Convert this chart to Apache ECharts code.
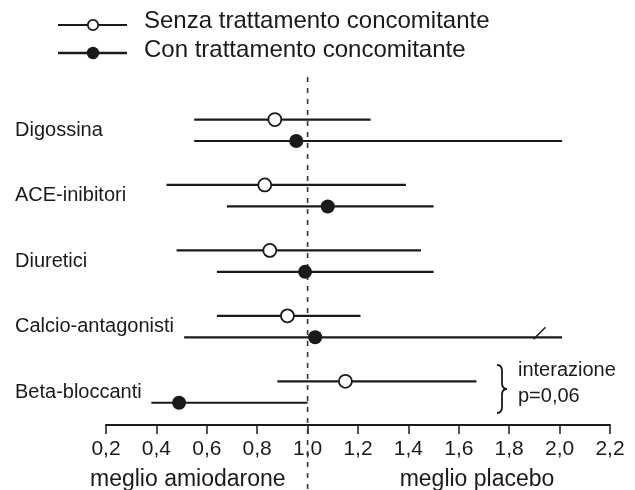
<!DOCTYPE html>
<html>
<head>
<meta charset="utf-8">
<script src="https://cdn.jsdelivr.net/npm/echarts@6/dist/echarts.min.js"></script>
<style>
html,body{margin:0;padding:0;background:#fff;}
#chart{width:635px;height:490px;}
</style>
</head>
<body>
<div id="chart"></div>
<script>
// ---- data ----
const categories = ['Digossina', 'ACE-inibitori', 'Diuretici', 'Calcio-antagonisti', 'Beta-bloccanti'];
const senzaLabel = 'Senza trattamento concomitante';
const conLabel = 'Con trattamento concomitante';
const senzaEst  = [0.87, 0.83, 0.85, 0.92, 1.15];
const senzaLow  = [0.55, 0.44, 0.48, 0.64, 0.88];
const senzaHigh = [1.25, 1.39, 1.45, 1.21, 1.67];
const conEst  = [0.955, 1.08, 0.99, 1.03, 0.49];
const conLow  = [0.55, 0.68, 0.64, 0.51, 0.38];
const conHigh = [2.01, 1.50, 1.50, 2.01, 1.00];
const tickLabels = ['0,2','0,4','0,6','0,8','1,0','1,2','1,4','1,6','1,8','2,0','2,2'];
const breakValue = 1.92;      // axis-break slash on Calcio-antagonisti (con)
const breakRow = 3;
const refValue = 1.0;
const xLeftName = 'meglio amiodarone';
const xRightName = 'meglio placebo';
const noteLines = ['interazione', 'p=0,06'];

// ---- layout ----
const INK = '#1a1a1a';
const FONT = '"Liberation Sans", Arial, sans-serif';
const OFF = 0.164;  // row offset inside a group

const chart = echarts.init(document.getElementById('chart'), null, {renderer: 'canvas'});

function ciData(low, high, sign) {
  return low.map((l, i) => [l, high[i], i + sign * OFF]);
}
function ptData(est, sign) {
  return est.map((v, i) => [v, i + sign * OFF]);
}
const ciRender = function (params, api) {
  const a = api.coord([api.value(0), api.value(2)]);
  const b = api.coord([api.value(1), api.value(2)]);
  return {
    type: 'line',
    shape: {x1: a[0], y1: a[1], x2: b[0], y2: b[1]},
    style: {stroke: INK, lineWidth: 2.2}
  };
};

chart.setOption({
  animation: false,
  backgroundColor: '#fff',
  grid: {left: 106, right: 25, top: 77, bottom: 65, containLabel: false},
  xAxis: {
    type: 'value', min: 0.2, max: 2.2, interval: 0.2, position: 'bottom',
    axisLine: {show: true, onZero: false, lineStyle: {color: INK, width: 1.8}},
    axisTick: {show: true, inside: false, length: 9, lineStyle: {color: INK, width: 1.5}},
    splitLine: {show: false},
    axisLabel: {
      margin: 14, fontSize: 21, color: INK, fontFamily: FONT,
      formatter: function (v) { return tickLabels[Math.round((v - 0.2) / 0.2)]; }
    }
  },
  yAxis: {
    type: 'value', inverse: true, min: -0.814, max: 4.504,
    axisLine: {show: false}, axisTick: {show: false}, splitLine: {show: false},
    axisLabel: {
      show: true, customValues: [0, 1, 2, 3, 4],
      align: 'left', margin: 91, fontSize: 20, color: INK, fontFamily: FONT,
      formatter: function (v) { return categories[Math.round(v)] || ''; }
    }
  },
  series: [
    {name: senzaLabel + ' CI', type: 'custom', renderItem: ciRender,
     encode: {x: [0, 1], y: 2}, data: ciData(senzaLow, senzaHigh, -1), z: 2},
    {name: conLabel + ' CI', type: 'custom', renderItem: ciRender,
     encode: {x: [0, 1], y: 2}, data: ciData(conLow, conHigh, 1), z: 2},
    {name: senzaLabel, type: 'scatter', symbol: 'circle', symbolSize: 13,
     itemStyle: {color: '#fff', borderColor: INK, borderWidth: 1.8, opacity: 1},
     data: ptData(senzaEst, -1), z: 5},
    {name: conLabel, type: 'scatter', symbol: 'circle', symbolSize: 14,
     itemStyle: {color: INK, opacity: 1},
     data: ptData(conEst, 1), z: 5},
    {name: 'break', type: 'scatter', symbol: 'path://M0,12 L12,0', symbolSize: [12, 12],
     symbolOffset: [0, -4],
     itemStyle: {color: 'none', borderColor: INK, borderWidth: 1.5, opacity: 1},
     data: [[breakValue, breakRow + OFF]], z: 6}
  ]
});

const xRef = chart.convertToPixel({xAxisIndex: 0}, refValue);
const braceStyle = {fill: 'none', stroke: INK, lineWidth: 1.8};

chart.setOption({
  graphic: [
    // reference line at 1.0
    {type: 'line', shape: {x1: xRef, y1: 77, x2: xRef, y2: 490},
     style: {stroke: '#333', lineWidth: 1.6, lineDash: [5, 6]}, z: 1},
    // legend
    {type: 'line', shape: {x1: 58, y1: 25, x2: 127, y2: 25}, style: {stroke: INK, lineWidth: 2}},
    {type: 'circle', shape: {cx: 93, cy: 25, r: 5.2}, style: {fill: '#fff', stroke: INK, lineWidth: 1.8}, z: 10},
    {type: 'text', x: 144, y: 21.5, style: {text: senzaLabel, font: '24px ' + FONT, fill: INK, verticalAlign: 'middle'}},
    {type: 'line', shape: {x1: 58, y1: 53, x2: 127, y2: 53}, style: {stroke: INK, lineWidth: 2.4}},
    {type: 'circle', shape: {cx: 93, cy: 53, r: 6.2}, style: {fill: INK}, z: 10},
    {type: 'text', x: 144, y: 50.5, style: {text: conLabel, font: '24px ' + FONT, fill: INK, verticalAlign: 'middle'}},
    // interaction brace
    {type: 'bezierCurve', shape: {x1: 497, y1: 365, cpx1: 502, cpy1: 365, x2: 502, y2: 371}, style: braceStyle},
    {type: 'line', shape: {x1: 502, y1: 371, x2: 502, y2: 383}, style: braceStyle},
    {type: 'bezierCurve', shape: {x1: 502, y1: 383, cpx1: 502, cpy1: 389, x2: 507, y2: 389}, style: braceStyle},
    {type: 'bezierCurve', shape: {x1: 507, y1: 389, cpx1: 502, cpy1: 389, x2: 502, y2: 395}, style: braceStyle},
    {type: 'line', shape: {x1: 502, y1: 395, x2: 502, y2: 407}, style: braceStyle},
    {type: 'bezierCurve', shape: {x1: 502, y1: 407, cpx1: 502, cpy1: 413, x2: 497, y2: 413}, style: braceStyle},
    // note
    {type: 'text', x: 518, y: 370, style: {text: noteLines[0], font: '20px ' + FONT, fill: INK, verticalAlign: 'middle'}},
    {type: 'text', x: 518, y: 396, style: {text: noteLines[1], font: '20px ' + FONT, fill: INK, verticalAlign: 'middle'}},
    // axis side names
    {type: 'text', x: 90, y: 480, style: {text: xLeftName, font: '23px ' + FONT, fill: INK, verticalAlign: 'middle'}},
    {type: 'text', x: 477, y: 480, style: {text: xRightName, font: '23px ' + FONT, fill: INK, verticalAlign: 'middle', align: 'center'}}
  ]
});
</script>
</body>
</html>
